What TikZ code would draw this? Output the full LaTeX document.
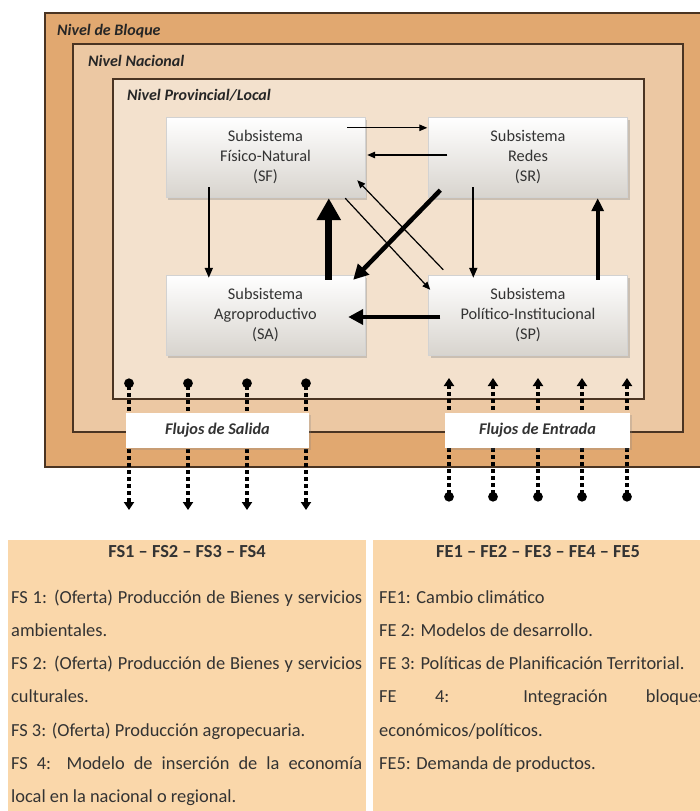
\documentclass[tikz,border=0pt]{standalone}
\usepackage{fontspec}
\setmainfont{Carlito}
\usetikzlibrary{arrows.meta,shadows,calc}
\definecolor{bloque}{HTML}{E1A870}
\definecolor{nacional}{HTML}{ECC8A3}
\definecolor{prov}{HTML}{F3E1CD}
\definecolor{peach}{HTML}{FAD7AA}
\definecolor{lvlline}{HTML}{4A3422}
\definecolor{subgray}{HTML}{D8D4CE}
\definecolor{txt}{HTML}{333333}
\begin{document}
\begin{tikzpicture}[x=1pt,y=-1pt,
  lvl/.style={draw=lvlline,line width=1.3pt},
  lvllabel/.style={anchor=base west,inner sep=0pt,font=\fontsize{16}{18}\selectfont\bfseries\itshape,text=black!85},
  sub/.style={minimum width=199pt,minimum height=80pt,align=center,top color=white,bottom color=subgray,draw=gray!35,line width=0.4pt,
    drop shadow={shadow xshift=2pt,shadow yshift=-2.5pt,opacity=0.35},font=\fontsize{16.3}{20}\selectfont,text=txt,inner sep=0pt},
  thinarr/.style={line width=1.2pt,-{Triangle[length=8pt,width=6.5pt]}},
  medarr/.style={line width=1.8pt,-{Triangle[length=10pt,width=8pt]}},
  thickarr/.style={line width=4.5pt,-{Triangle[length=15pt,width=15pt]}},
  thickarrb/.style={line width=4pt,-{Triangle[length=13pt,width=12pt]}},
  vthickarr/.style={line width=7pt,-{Triangle[length=22pt,width=23pt]}},
  flow/.style={line width=3.2pt,dash pattern=on 3.2pt off 3.8pt},
  flowlbl/.style={fill=white,minimum height=35pt,inner sep=0pt,font=\fontsize{16.3}{19}\selectfont\bfseries\itshape,text=black!80,
    drop shadow={shadow xshift=1.5pt,shadow yshift=-1.5pt,opacity=0.25}},
  tabtitle/.style={anchor=base,inner sep=0pt,font=\fontsize{18.4}{20}\selectfont\bfseries,text=txt},
  tabbody/.style={anchor=base west,inner sep=0pt,text=txt}
]
\useasboundingbox (0,0) rectangle (700,811);
\fill[white] (0,0) rectangle (700,811);
% levels
\draw[lvl,fill=bloque] (45,13) rectangle (716,467);
\draw[lvl,fill=nacional] (73,44) rectangle (683,432);
\draw[lvl,fill=prov] (113,79) rectangle (644,399);
\node[lvllabel] (lb) at (57,35) {Nivel de Bloque};
\node[lvllabel] (ln) at (88,66) {Nivel Nacional};
\node[lvllabel] (lp) at (127,100) {Nivel Provincial/Local};
% subsystems
\node[sub] (SF) at (265.5,157) {Subsistema\\Físico-Natural\\(SF)};
\node[sub] (SR) at (528,157) {Subsistema\\Redes\\(SR)};
\node[sub] (SA) at (265.5,315) {Subsistema\\Agroproductivo\\(SA)};
\node[sub] (SP) at (528,315) {Subsistema\\Político-Institucional\\(SP)};
% arrows
\draw[thinarr] ([shift={(-18,11)}]SF.north east) -- ([shift={(-1,11)}]SR.north west);
\draw[thinarr] ([shift={(19,-2)}]SR.west) -- ([shift={(2,-2)}]SF.east);
\draw[medarr] ([shift={(43,-10)}]SF.south west) -- ([shift={(43,3)}]SA.north west);
\draw[vthickarr] ([shift={(163,5)}]SA.north west) -- ([shift={(163,1)}]SF.south west);
\draw[thickarr] ([shift={(12,-7)}]SR.south west) -- ([shift={(-12,5)}]SA.north east);
\draw[thinarr] ([shift={(-20,1)}]SF.south east) -- ([shift={(2,15)}]SP.north west);
\draw[thinarr] ([shift={(15,-5)}]SP.north west) -- ([shift={(-8,-17)}]SF.south east);
\draw[medarr] ([shift={(45,-10)}]SR.south west) -- ([shift={(45,3)}]SP.north west);
\draw[thickarrb] ([shift={(-30,5)}]SP.north east) -- ([shift={(-30,1)}]SR.south east);
\draw[thickarr] ([shift={(12,2)}]SP.west) -- ([shift={(-17,2)}]SA.east);
% flows
\foreach \x [count=\i] in {129,188,247,306} {
  \coordinate (so\i) at (\x,378.5);
  \coordinate (se\i) at (\x,510);
  \draw[flow,{Circle[length=9.5pt]}-{Triangle[length=8pt,width=10pt]}] (so\i) -- (se\i);
}
\foreach \x [count=\i] in {449,493,538,582,627} {
  \coordinate (eo\i) at (\x,501.5);
  \coordinate (ee\i) at (\x,378);
  \draw[flow,{Circle[length=9.5pt]}-{Triangle[length=8pt,width=10pt]}] (eo\i) -- (ee\i);
}
\node[flowlbl,minimum width=183pt] (fsal) at (217.5,430.5) {Flujos de Salida};
\node[flowlbl,minimum width=185pt] (fent) at (537.5,430.5) {Flujos de Entrada};
% tables
\fill[peach] (8,540) rectangle (366,815);
\fill[peach] (373,540) rectangle (716,815);
\node[tabtitle] (fst) at (187,557) {FS1 – FS2 – FS3 – FS4};
\node[tabtitle] (fet) at (538,557) {FE1 – FE2 – FE3 – FE4 – FE5};
\node[tabbody] (fsb) at (11,603) {\parbox[t]{351pt}{\fontsize{18.4}{33.3}\selectfont\hbadness=10000
FS 1: (Oferta) Producción de Bienes y servicios\linebreak ambientales.\par
FS 2: (Oferta) Producción de Bienes y servicios\linebreak culturales.\par
FS 3: (Oferta) Producción agropecuaria.\par
FS 4: Modelo de inserción de la economía\linebreak local en la nacional o regional.\par}};
\node[tabbody] (feb) at (379,603) {\parbox[t]{326pt}{\fontsize{18.4}{33.3}\selectfont\hbadness=10000
FE1: Cambio climático\par
FE 2: Modelos de desarrollo.\par
FE 3: Políticas de Planificación Territorial.\par
FE 4: Integración bloques\linebreak económicos/políticos.\par
FE5: Demanda de productos.\par}};
\end{tikzpicture}
\end{document}
